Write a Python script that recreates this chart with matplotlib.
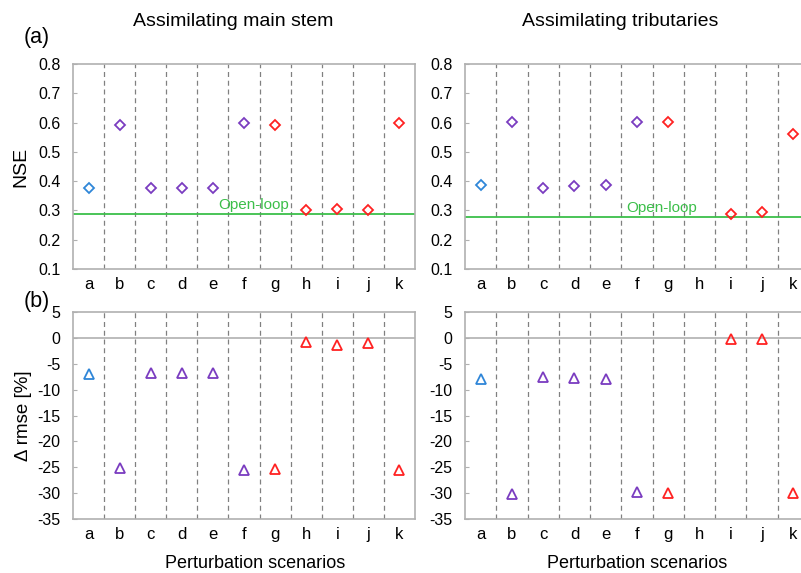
import numpy as np
import matplotlib.pyplot as plt

plt.rcParams['font.family'] = ['Liberation Sans', 'DejaVu Sans']

scenarios = ['a', 'b', 'c', 'd', 'e', 'f', 'g', 'h', 'i', 'j', 'k']
colors = ['#2f86d8', '#7a3cc0', '#7a3cc0', '#7a3cc0', '#7a3cc0', '#7a3cc0',
          '#ff2222', '#ff2222', '#ff2222', '#ff2222', '#ff2222']

# NSE values (nan = not shown)
nse_main = [0.377, 0.592, 0.375, 0.376, 0.375, 0.600, 0.593, 0.300, 0.305, 0.301, 0.598]
nse_trib = [0.388, 0.602, 0.376, 0.384, 0.387, 0.603, 0.601, np.nan, 0.287, 0.294, 0.562]
openloop_main = 0.287
openloop_trib = 0.277

# change in rmse [%]
drmse_main = [-6.9, -25.2, -6.7, -6.7, -6.7, -25.6, -25.4, -0.8, -1.3, -1.0, -25.6]
drmse_trib = [-7.9, -30.1, -7.5, -7.7, -7.9, -29.7, -29.9, np.nan, -0.3, -0.2, -29.9]

W, H = 801, 573
fig = plt.figure(figsize=(W / 100, H / 100), dpi=100)

def add_ax(x0, y0, x1, y1):
    return fig.add_axes([x0 / W, 1 - y1 / H, (x1 - x0) / W, (y1 - y0) / H])

grey = '#b0b0b0'
x = np.arange(len(scenarios))

def style(ax, ylim, yticks, ytl):
    ax.set_xlim(-0.5, len(scenarios) - 0.5)
    ax.set_ylim(*ylim)
    ax.set_yticks(yticks)
    ax.set_yticklabels(ytl)
    ax.set_xticks(x)
    ax.set_xticklabels(scenarios)
    ax.tick_params(axis='x', length=0, labelsize=12, pad=6)
    ax.tick_params(axis='y', direction='in', length=3, color=grey, labelsize=11.5, pad=9)
    for s in ax.spines.values():
        s.set_color(grey)
        s.set_linewidth(1.2)
    for b in x[:-1] + 0.5:
        ax.axvline(b, color='#808080', ls=(0, (4, 3)), lw=0.9, zorder=1)

def scatter(ax, vals, marker, ms):
    for xi, v, c in zip(x, vals, colors):
        if not np.isnan(v):
            ax.plot(xi, v, marker=marker, ms=ms, mfc='none', mec=c, mew=1.3, zorder=3)

nse_ticks = [0.1, 0.2, 0.3, 0.4, 0.5, 0.6, 0.7, 0.8]
nse_tl = ['%.1f' % t for t in nse_ticks]
rm_ticks = [5, 0, -5, -10, -15, -20, -25, -30, -35]
rm_tl = [str(t) for t in rm_ticks]

ax1 = add_ax(73, 64, 415, 269)
ax2 = add_ax(465, 64, 809, 269)
ax3 = add_ax(73, 312, 415, 519)
ax4 = add_ax(465, 312, 809, 519)

for ax, vals, ol in [(ax1, nse_main, openloop_main), (ax2, nse_trib, openloop_trib)]:
    style(ax, (0.1, 0.8), nse_ticks, nse_tl)
    ax.axhline(ol, color='#3cbf4a', lw=1.3, zorder=2)
    scatter(ax, vals, 'D', 5.2)

ax1.text(5.3, openloop_main + 0.008, 'Open-loop', color='#3cbf4a', fontsize=11,
         ha='center', va='bottom')
ax2.text(5.8, openloop_trib + 0.008, 'Open-loop', color='#3cbf4a', fontsize=11,
         ha='center', va='bottom')

for ax, vals in [(ax3, drmse_main), (ax4, drmse_trib)]:
    style(ax, (-35, 5), rm_ticks, rm_tl)
    ax.axhline(0, color=grey, lw=1.2, zorder=2)
    scatter(ax, vals, '^', 6.5)

for ax in (ax2, ax4):
    ax.spines['right'].set_visible(False)

ax1.set_ylabel('NSE', fontsize=14, labelpad=6)
ax3.set_ylabel('\u0394 rmse [%]', fontsize=13.5, labelpad=4)

fig.text(233 / W, 1 - 22 / H, 'Assimilating main stem', fontsize=14, ha='center', va='center')
fig.text(620 / W, 1 - 22 / H, 'Assimilating tributaries', fontsize=14, ha='center', va='center')
fig.text(37 / W, 1 - 37 / H, '(a)', fontsize=15.5, ha='center', va='center')
fig.text(37 / W, 1 - 302 / H, '(b)', fontsize=15.5, ha='center', va='center')
fig.text(255 / W, 1 - 564 / H, 'Perturbation scenarios', fontsize=13, ha='center', va='center')
fig.text(637 / W, 1 - 564 / H, 'Perturbation scenarios', fontsize=13, ha='center', va='center')

fig.savefig('out.png', dpi=100)
